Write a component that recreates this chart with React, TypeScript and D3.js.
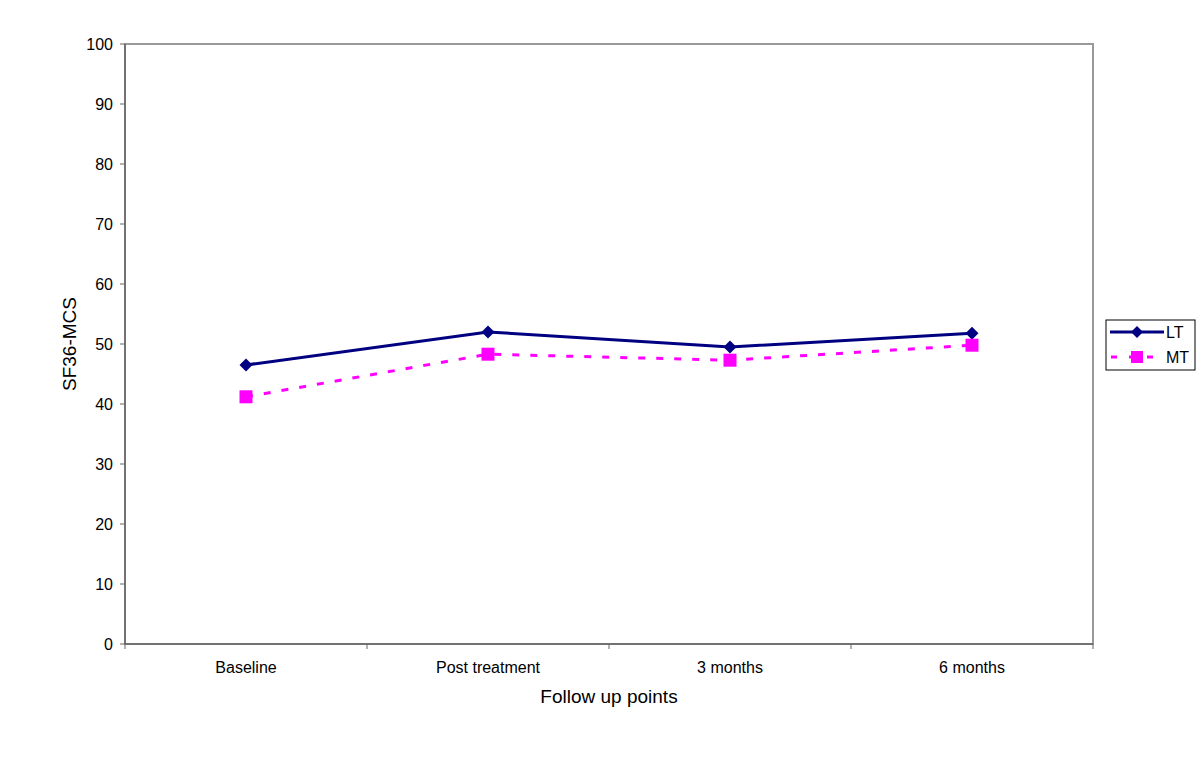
import React from "react";
import * as d3 from "d3";

const categories = ["Baseline", "Post treatment", "3 months", "6 months"];
const ltValues = [46.5, 52.0, 49.5, 51.8];
const mtValues = [41.2, 48.3, 47.3, 49.8];
const yTicks = [0, 10, 20, 30, 40, 50, 60, 70, 80, 90, 100];

export default function App() {
  const W = 1200, H = 784;
  const left = 125, right = 1093, top = 44, bottom = 644;
  const x = d3.scaleBand<string>().domain(categories).range([left, right]);
  const y = d3.scaleLinear().domain([0, 100]).range([bottom, top]);
  const cx = (c: string) => (x(c) as number) + x.bandwidth() / 2;
  const line = d3.line<number>().x((_, i) => cx(categories[i])).y((v) => y(v));
  const font = "'Liberation Sans', Arial, sans-serif";
  const bounds = [left, ...categories.map((c) => (x(c) as number) + x.bandwidth())];
  return (
    <svg width={W} height={H} style={{ position: "absolute", left: 0, top: 0, background: "#fff" }} fontFamily={font}>
      <rect x={left} y={top} width={right - left} height={bottom - top} fill="none" stroke="#999" strokeWidth={2} />
      <line x1={left} x2={left} y1={top} y2={bottom} stroke="#666" strokeWidth={1.5} />
      <line x1={left} x2={right} y1={bottom} y2={bottom} stroke="#666" strokeWidth={1.5} />
      {yTicks.map((t) => (
        <g key={t}>
          <line x1={left - 5} x2={left} y1={y(t)} y2={y(t)} stroke="#666" strokeWidth={1} />
          <text x={left - 12} y={y(t)} dy="0.35em" textAnchor="end" fontSize={16} fill="#000">{t}</text>
        </g>
      ))}
      {bounds.map((b, i) => (
        <line key={i} x1={b} x2={b} y1={bottom} y2={bottom + 5} stroke="#666" strokeWidth={1} />
      ))}
      {categories.map((c) => (
        <text key={c} x={cx(c)} y={673} textAnchor="middle" fontSize={16} fill="#000">{c}</text>
      ))}
      <text x={609} y={703} textAnchor="middle" fontSize={19} fill="#000">Follow up points</text>
      <text transform="translate(76,344) rotate(-90)" textAnchor="middle" fontSize={19} fill="#000">SF36-MCS</text>
      <path d={line(mtValues) || ""} fill="none" stroke="#ff00ff" strokeWidth={3} strokeDasharray="7,11" />
      <path d={line(ltValues) || ""} fill="none" stroke="#000080" strokeWidth={3} />
      {ltValues.map((v, i) => {
        const px = cx(categories[i]), py = y(v);
        return <path key={i} d={`M${px},${py - 6.5}L${px + 6.5},${py}L${px},${py + 6.5}L${px - 6.5},${py}Z`} fill="#000080" />;
      })}
      {mtValues.map((v, i) => {
        const px = cx(categories[i]), py = y(v);
        return <rect key={i} x={px - 6.5} y={py - 6.5} width={13} height={13} fill="#ff00ff" />;
      })}
      <g>
        <rect x={1106} y={320} width={89} height={50} fill="#fff" stroke="#000" strokeWidth={1} />
        <line x1={1110} x2={1164} y1={332} y2={332} stroke="#000080" strokeWidth={3} />
        <path d="M1137,326L1143,332L1137,338L1131,332Z" fill="#000080" />
        <text x={1166} y={332} dy="0.35em" fontSize={16} fill="#000">LT</text>
        <line x1={1111} x2={1164} y1={357} y2={357} stroke="#ff00ff" strokeWidth={3} strokeDasharray="6,12" />
        <rect x={1131} y={351} width={12} height={12} fill="#ff00ff" />
        <text x={1166} y={357} dy="0.35em" fontSize={16} fill="#000">MT</text>
      </g>
    </svg>
  );
}
